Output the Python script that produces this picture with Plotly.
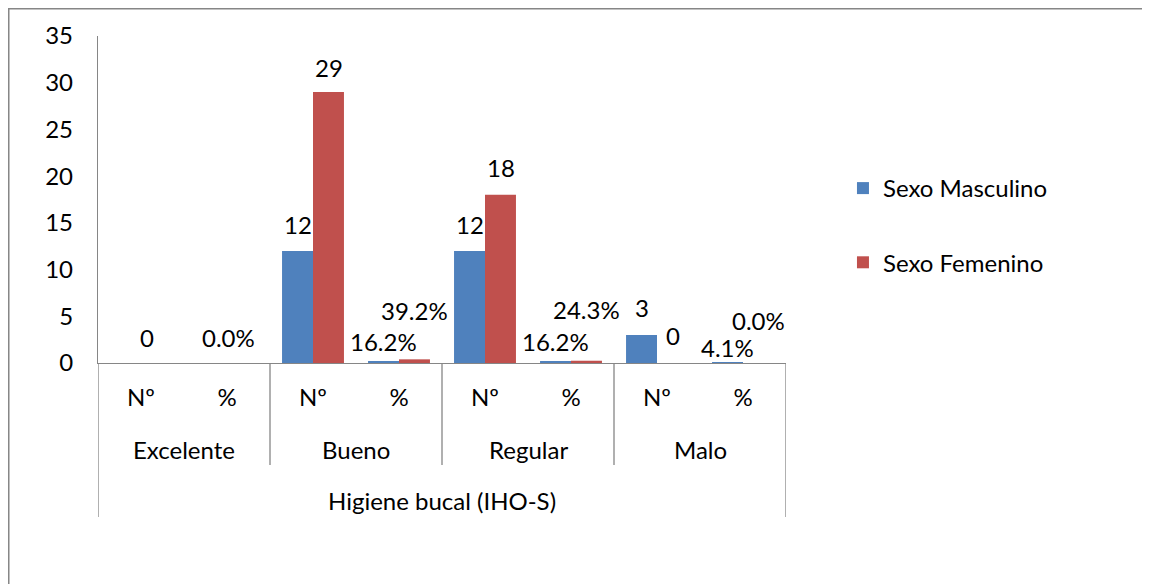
import plotly.graph_objects as go

# ---- data ----
groups = ["Excelente", "Bueno", "Regular", "Malo"]
subcats = ["Nº", "%", "Nº", "%", "Nº", "%", "Nº", "%"]
masculino = [0, 0.0, 12, 0.162, 12, 0.162, 3, 0.041]
femenino = [0, 0.0, 29, 0.392, 18, 0.243, 0, 0.0]
axis_title = "Higiene bucal (IHO-S)"
series_names = ["Sexo Masculino", "Sexo Femenino"]

# ---- style ----
FONT = "Lato"
FS = 24
BLUE = "#4F81BD"
RED = "#C0504D"
GREY = "#868686"

# label visibility / placement (Excel overlap handling), pixel offsets
masc_show = [False, False, True, True, True, True, True, True]
fem_show = [True, True, True, True, True, True, True, True]
masc_yshift = [26, 26, 26, 20, 26, 20, 27, 15]
fem_yshift = [26, 26, 25, 49, 27, 51, 28, 43]
masc_xshift = [-15.5] * 8
fem_xshift = [6, 1, 15.5, 15.5, 15.5, 15.5, 15.5, 15.5]


def fmt(v, sub):
    return f"{v*100:.1f}%" if sub == "%" else f"{v:g}"


xpos = list(range(len(subcats)))

fig = go.Figure()
fig.add_trace(go.Bar(x=xpos, y=masculino, name=series_names[0],
                     marker=dict(color=BLUE, line=dict(width=0)),
                     legendgroup="m"))
fig.add_trace(go.Bar(x=xpos, y=femenino, name=series_names[1],
                     marker=dict(color=RED, line=dict(width=0)),
                     legendgroup="f"))

annotations = []
for vals, show, xs, ys in ((masculino, masc_show, masc_xshift, masc_yshift),
                           (femenino, fem_show, fem_xshift, fem_yshift)):
    for i, v in enumerate(vals):
        if not show[i]:
            continue
        annotations.append(dict(x=i, y=v, xref="x", yref="y",
                                text=fmt(v, subcats[i]), showarrow=False,
                                xshift=xs[i], yshift=ys[i], yanchor="middle",
                                font=dict(family=FONT, size=FS, color="black")))

# group labels (second level of the category axis)
for g, name in enumerate(groups):
    annotations.append(dict(x=2 * g + 0.5, y=-0.263, xref="x", yref="paper",
                            text=name, showarrow=False, yanchor="middle",
                            font=dict(family=FONT, size=FS, color="black")))
annotations.append(dict(x=3.5, y=-0.419, xref="x", yref="paper",
                        text=axis_title, showarrow=False, yanchor="middle",
                        font=dict(family=FONT, size=FS, color="black")))

shapes = []
for b in [-0.5, 7.5]:
    shapes.append(dict(type="line", xref="x", yref="paper", x0=b, x1=b,
                       y0=0, y1=-0.471, line=dict(color=GREY, width=1.3)))
for b in [1.5, 3.5, 5.5]:
    shapes.append(dict(type="line", xref="x", yref="paper", x0=b, x1=b,
                       y0=0, y1=-0.312, line=dict(color=GREY, width=1.3)))
# chart-area border (top and left edges visible)
shapes.append(dict(type="rect", xref="paper", yref="paper",
                   x0=-0.1297, x1=1.6, y0=-0.8, y1=1.0833,
                   line=dict(color=GREY, width=1.5), fillcolor="rgba(0,0,0,0)"))

fig.update_layout(
    width=1142, height=576,
    margin=dict(l=90, r=364, t=28, b=221),
    paper_bgcolor="white", plot_bgcolor="white",
    barmode="group", bargap=0.28, bargroupgap=0,
    font=dict(family=FONT, size=FS, color="black"),
    xaxis=dict(range=[-0.5, 7.5], tickmode="array", tickvals=xpos,
               ticktext=subcats, showgrid=False, zeroline=False,
               showline=True, linecolor=GREY, linewidth=1.3, ticks="",
               ticklabelstandoff=13,
               tickfont=dict(family=FONT, size=FS, color="black")),
    yaxis=dict(range=[0, 35], dtick=5, showgrid=False, zeroline=False,
               showline=True, linecolor=GREY, linewidth=1.3, ticks="",
               ticklabelstandoff=19,
               tickfont=dict(family=FONT, size=FS, color="black")),
    legend=dict(x=1.0828, xanchor="left", y=0.4205, yanchor="middle",
                tracegroupgap=40, bgcolor="rgba(0,0,0,0)",
                font=dict(family=FONT, size=FS, color="black")),
    annotations=annotations,
    shapes=shapes,
    showlegend=True,
)

fig.write_html("out.html")
